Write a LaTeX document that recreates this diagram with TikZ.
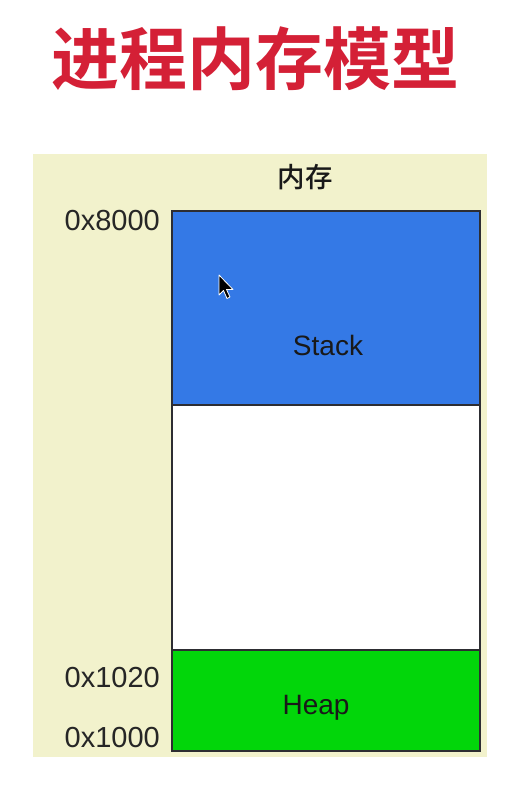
\documentclass[tikz,border=0pt]{standalone}
\usepackage{fontspec}
\setmainfont{Liberation Sans}
\newfontfamily\cjk{Noto Sans CJK SC Medium}
\newfontfamily\cjkbold{Noto Sans CJK SC Bold}
\definecolor{titlered}{RGB}{212,32,54}
\definecolor{bgbeige}{RGB}{242,242,204}
\definecolor{stackblue}{RGB}{52,121,230}
\definecolor{heapgreen}{RGB}{2,214,10}
\definecolor{edge}{RGB}{45,45,50}
\begin{document}
\begin{tikzpicture}[x=1pt,y=-1pt,
  seg/.style={draw=edge,line width=1.3pt},
  addr/.style={anchor=east,inner sep=0pt,font=\fontsize{29}{31}\selectfont,text=black!85},
  lbl/.style={inner sep=0pt,anchor=base,font=\fontsize{28}{30}\selectfont,text=black!90}]
\useasboundingbox (0,0) rectangle (530,790);
\fill[white] (0,0) rectangle (530,790);
\node[inner sep=0pt,text=titlered,font=\cjkbold\fontsize{68}{70}\selectfont] (title) at (255,59) {进程内存模型};
\fill[bgbeige] (33,154) rectangle (487,757);
\node[inner sep=0pt,font=\cjk\fontsize{27.5}{29}\selectfont,text=black!90] (mem) at (305,177) {内存};
\path[seg,fill=stackblue] (172,211) rectangle (480,405) node[midway] (stack) {};
\path[seg,fill=white] (172,405) rectangle (480,650) node[midway] (free) {};
\path[seg,fill=heapgreen] (172,650) rectangle (480,751) node[midway] (heap) {};
\node[lbl] (stacklbl) at (328,355) {Stack};
\node[lbl] (heaplbl) at (316,714) {Heap};
\node[addr] (a8000) at (160,221) {0x8000};
\node[addr] (a1020) at (160,678) {0x1020};
\node[addr] (a1000) at (160,738) {0x1000};
% mouse cursor
\filldraw[fill=black,draw=white,line width=0.8pt,line join=round]
  (219,275) -- (219,295) -- (223.5,290.5) -- (227,298.5) -- (230,297) -- (226.5,289.5) -- (233,289.5) -- cycle;
\end{tikzpicture}
\end{document}
